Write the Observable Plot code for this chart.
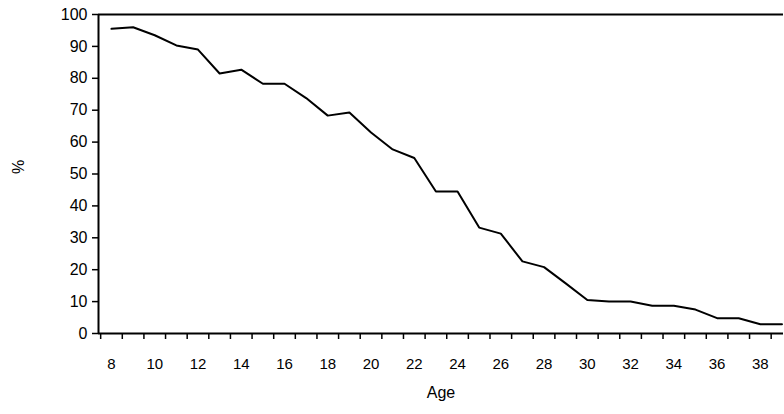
<!DOCTYPE html>
<html><head>
<meta charset="utf-8">
<script src="https://cdn.jsdelivr.net/npm/d3@7"></script>
<script src="https://cdn.jsdelivr.net/npm/@observablehq/plot@0.6"></script>
<style>body{margin:0;background:#fff}</style>
</head><body><div id="chart"></div>
<script>
const ages = [8,9,10,11,12,13,14,15,16,17,18,19,20,21,22,23,24,25,26,27,28,29,30,31,32,33,34,35,36,37,38,39];
const pct = [95.5,96,93.5,90.3,89,81.5,82.7,78.3,78.3,73.8,68.3,69.3,63,57.7,55,44.5,44.5,33.2,31.3,22.6,20.8,15.7,10.5,10,10,8.7,8.7,7.5,4.8,4.8,2.9,2.9];
const yTicks = [0,10,20,30,40,50,60,70,80,90,100];
const xLabels = [8,10,12,14,16,18,20,22,24,26,28,30,32,34,36,38];
const xBounds = d3.range(7.5, 39, 1);

const data = ages.map((a, i) => ({age: a, pct: pct[i]}));

const chart = Plot.plot({
  width: 784, height: 414,
  marginLeft: 98, marginRight: 1, marginTop: 14, marginBottom: 81,
  style: {fontFamily: "'Liberation Sans', Arial, sans-serif", fontSize: 15, color: "#000", background: "#fff"},
  x: {domain: [7.4, 39.07], axis: null},
  y: {domain: [0, 100], axis: null},
  marks: [
    Plot.axisX({ticks: xBounds, tickSize: 6, tickFormat: () => "", strokeWidth: 1.5, label: null}),
    Plot.textX(xLabels, {x: d => d, y: 0, dy: 31, text: d => String(d), fontSize: 15}),
    Plot.axisY({ticks: yTicks, tickSize: 6, tickPadding: 5, strokeWidth: 1.5, label: null, fontSize: 16}),
    Plot.ruleY([0], {strokeWidth: 2}),
    Plot.ruleY([100], {strokeWidth: 2}),
    Plot.ruleX([7.4], {strokeWidth: 2}),
    Plot.line(data, {x: "age", y: "pct", stroke: "black", strokeWidth: 2}),
    Plot.text(["Age"], {frameAnchor: "bottom", dy: 64, text: d => d, fontSize: 16}),
    Plot.text(["%"], {frameAnchor: "left", dx: -80, rotate: -90, text: d => d, fontSize: 16})
  ]
});
document.getElementById("chart").append(chart);
</script>
</body></html>
